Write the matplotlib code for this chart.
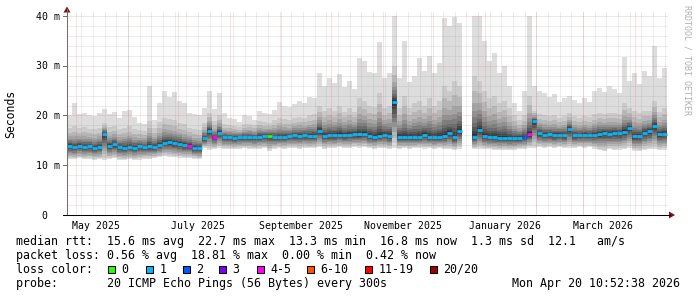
import numpy as np
import matplotlib
matplotlib.use("Agg")
import matplotlib.pyplot as plt
import matplotlib.dates as mdates
from matplotlib.patches import Rectangle, Polygon
from matplotlib.lines import Line2D
from matplotlib.transforms import Affine2D, blended_transform_factory
from datetime import datetime, timedelta

nan = np.nan
W, H = 697, 297
plt.rcParams["lines.scale_dashes"] = False

# time range of the graph (360 days, 3-day bins)
t_start = datetime(2025, 4, 25, 12)
t_end = datetime(2026, 4, 21, 0)
bin_days = 3

# median rtt per bin (ms)
median = [
    13.8, 13.6, 13.9, 13.7, 13.8, 13.5, 13.7, 16.3, 13.9, 14.2,
    13.6, 13.5, 13.7, 13.5, 13.8, 13.6, 13.8, 13.7, 14.0, 14.5,
    14.6, 14.4, 14.3, 14.0, 13.9, 13.5, 13.4, 15.4, 16.9, 15.6,
    16.5, 15.6, 15.6, 15.5, 15.6, 15.6, 15.7, 15.6, 15.7, 15.8,
    15.9, 15.6, 15.7, 15.7, 15.8, 16.0, 15.9, 16.0, 15.9, 15.9,
    16.9, 15.9, 16.0, 16.0, 16.1, 16.0, 16.1, 16.2, 16.2, 16.3,
    15.8, 15.7, 15.9, 16.1, 15.8, 22.7, 15.7, 15.6, 15.7, 15.6,
    15.7, 16.1, 15.7, 15.6, 15.7, 15.8, 16.4, 15.6, 16.9, nan,
    nan, 15.7, 17.0, 15.8, 15.6, 15.6, 15.5, 15.5, 15.4, 15.4,
    15.5, 15.6, 16.2, 18.9, 16.4, 16.1, 16.2, 16.0, 16.1, 16.0,
    17.3, 16.0, 16.0, 16.1, 16.0, 16.1, 16.3, 16.4, 16.3, 16.5,
    16.4, 16.7, 17.5, 15.8, 15.9, 16.5, 16.8, 17.9, 16.2, 16.3,
]

# slowest ping per bin (top of the smoke)
rtt_max = [
    20.0, 22.5, 20.3, 20.6, 20.1, 19.8, 20.4, 21.3, 20.2, 20.8,
    19.5, 20.9, 21.2, 19.6, 18.4, 18.2, 26.0, 19.0, 22.5, 25.0,
    23.7, 24.8, 23.0, 22.6, 20.5, 20.3, 20.0, 21.5, 25.0, 21.3,
    24.5, 20.5, 19.5, 19.2, 18.7, 20.0, 19.8, 19.0, 21.0, 20.6,
    20.2, 21.2, 22.8, 22.0, 21.7, 22.3, 23.0, 22.5, 23.8, 23.6,
    28.5, 26.0, 27.5, 26.5, 28.3, 25.8, 27.0, 25.4, 31.5, 31.0,
    28.8, 28.5, 34.8, 27.5, 28.5, 40.0, 27.5, 35.0, 26.8, 28.0,
    31.5, 29.0, 32.0, 28.5, 30.5, 39.5, 38.0, 39.8, 38.5, nan,
    nan, 40.0, 40.0, 35.0, 31.0, 32.5, 28.5, 30.0, 26.0, 22.5,
    21.0, 25.0, 40.0, 26.0, 25.0, 24.5, 23.8, 24.3, 22.8, 23.5,
    24.0, 23.2, 22.5, 23.6, 22.8, 25.0, 25.5, 24.8, 26.0, 25.3,
    24.6, 31.8, 27.0, 28.5, 26.3, 29.0, 28.0, 34.0, 27.5, 29.5,
]

# upper edge of the medium grey smoke per bin
rtt_upper = [
    17.5, 17.8, 17.4, 17.6, 17.3, 17.2, 17.5, 18.5, 17.6, 17.8,
    17.2, 17.5, 17.8, 17.3, 17.0, 16.9, 18.8, 17.4, 18.6, 19.5,
    19.2, 19.0, 18.4, 18.2, 17.5, 17.2, 17.0, 18.5, 20.5, 18.8,
    20.0, 18.2, 18.0, 17.9, 17.7, 18.2, 18.3, 18.0, 18.8, 18.6,
    18.5, 19.0, 19.5, 19.2, 19.0, 19.4, 19.7, 19.5, 20.0, 20.2,
    22.0, 21.0, 21.5, 21.0, 22.0, 20.8, 21.5, 20.8, 23.5, 23.0,
    22.0, 21.8, 24.5, 21.5, 22.0, 30.0, 21.5, 24.0, 21.5, 22.5,
    23.0, 22.0, 23.5, 22.0, 23.0, 26.0, 25.0, 27.0, 26.0, nan,
    nan, 28.0, 27.0, 25.0, 23.5, 24.0, 22.5, 23.0, 21.5, 20.0,
    19.0, 20.0, 24.0, 21.0, 20.2, 20.0, 19.8, 20.0, 19.5, 19.8,
    20.5, 19.8, 19.5, 19.8, 19.6, 20.2, 20.5, 20.3, 20.6, 20.4,
    20.2, 22.5, 21.5, 21.0, 20.5, 21.0, 21.0, 23.0, 20.8, 21.5,
]

# fastest ping per bin (bottom of the smoke)
rtt_min = [
    11.3, 11.2, 11.4, 11.2, 11.3, 11.1, 11.2, 11.0, 11.2, 11.4,
    11.1, 11.0, 11.2, 11.0, 11.1, 11.3, 11.2, 11.4, 11.6, 11.8,
    11.7, 11.6, 11.5, 11.4, 11.5, 11.3, 11.2, 13.4, 13.0, 13.2,
    13.5, 13.3, 13.3, 13.2, 13.3, 13.4, 13.3, 13.2, 13.3, 13.4,
    12.9, 13.3, 13.4, 13.3, 13.5, 13.4, 13.3, 13.5, 13.4, 13.5,
    13.6, 13.3, 13.5, 13.4, 13.6, 13.5, 13.4, 13.6, 13.5, 13.6,
    13.4, 13.3, 13.5, 13.4, 13.3, 13.5, 13.3, 13.4, 13.3, 13.4,
    13.5, 13.3, 13.4, 13.3, 13.4, 13.3, 13.2, 13.0, 13.2, nan,
    nan, 13.2, 13.3, 13.3, 13.2, 13.1, 13.0, 13.1, 13.0, 13.1,
    13.2, 13.3, 13.5, 13.4, 13.6, 13.5, 13.6, 13.5, 13.6, 13.5,
    13.4, 13.5, 13.6, 13.5, 13.6, 13.3, 13.0, 12.8, 13.2, 13.0,
    13.1, 13.2, 13.5, 12.9, 12.8, 13.0, 13.2, 13.3, 13.0, 13.1,
]

# loss colour class per bin (index into loss_labels)
loss = [
    1, 1, 1, 1, 1, 1, 1, 1, 1, 1, 1, 1, 1, 1, 1, 1, 1, 1, 1, 1,
    1, 1, 1, 1, 4, 1, 1, 1, 1, 4, 1, 1, 1, 1, 1, 1, 1, 1, 1, 1,
    0, 1, 1, 1, 1, 1, 1, 1, 1, 1, 1, 1, 1, 1, 1, 1, 1, 1, 1, 1,
    1, 1, 1, 1, 1, 1, 1, 1, 1, 1, 1, 1, 1, 1, 1, 1, 1, 1, 1, 1,
    1, 1, 1, 1, 1, 1, 1, 1, 1, 1, 1, 2, 4, 1, 1, 1, 1, 1, 1, 1,
    1, 1, 1, 1, 1, 1, 1, 1, 1, 1, 1, 1, 1, 1, 1, 1, 1, 1, 1, 1,
]

loss_labels = ["0", "1", "2", "3", "4-5", "6-10", "11-19", "20/20"]
loss_colors = ["#26ff00", "#00b8ff", "#0059ff", "#7e00ff",
               "#ff00ff", "#ff5500", "#ff0000", "#a10000"]
loss_box_x = [108, 145.7, 182.7, 219, 256.7, 306.7, 365, 430]

y_ticks = [0, 10, 20, 30, 40]
y_tick_labels = ["0", "10 m", "20 m", "30 m", "40 m"]
x_label_months = [datetime(2025, 5, 1), datetime(2025, 7, 1), datetime(2025, 9, 1),
                  datetime(2025, 11, 1), datetime(2026, 1, 1), datetime(2026, 3, 1)]
x_label_texts = ["May 2025", "July 2025", "September 2025",
                 "November 2025", "January 2026", "March 2026"]

stats_rtt = "median rtt:  15.6 ms avg  22.7 ms max  13.3 ms min  16.8 ms now  1.3 ms sd  12.1   am/s"
stats_loss = "packet loss: 0.56 % avg  18.81 % max  0.00 % min  0.42 % now"
probe_text = "probe:       20 ICMP Echo Pings (56 Bytes) every 300s"
stamp_text = "Mon Apr 20 10:52:38 2026"

mono = "DejaVu Sans Mono"

fig = plt.figure(figsize=(W / 100, H / 100), dpi=100)
fig.patch.set_facecolor("white")
# plot area: x 67..668, y 12..215 (pixels from top)
ax = fig.add_axes([67 / W, (H - 215) / H, 601 / W, 203 / H])
ax.set_facecolor("white")
for s in ax.spines.values():
    s.set_visible(False)
ax.set_xticks([])
ax.set_yticks([])
x0, x1 = mdates.date2num(t_start), mdates.date2num(t_end)
ax.set_xlim(x0, x1)
ax.set_ylim(0, 40.8)

# pixel transform (origin top-left)
pix = Affine2D().scale(1 / W, -1 / H).translate(0, 1) + fig.transFigure

# --- smoke ---
x_left = mdates.date2num([t_start + timedelta(days=bin_days * i) for i in range(len(median))])
med = np.array(median, float)
top = np.array(rtt_max, float)
upp = np.array(rtt_upper, float)
low = np.array(rtt_min, float)

greys = [221, 202, 183, 164, 145, 126, 107, 88, 69, 50]
up_frac = [None, None, 0.75, 0.55, 0.42, 0.32, 0.23, 0.16, 0.10, 0.05]
lo_frac = [1.0, 0.9, 0.78, 0.66, 0.55, 0.44, 0.34, 0.25, 0.16, 0.08]
for k, g in enumerate(greys):
    if k == 0:
        hi = top
    elif k == 1:
        hi = upp
    else:
        hi = med + (upp - med) * up_frac[k]
    lo = med - (med - low) * lo_frac[k]
    ax.bar(x_left, hi - lo, bottom=lo, width=bin_days, align="edge",
           color=(g / 255, g / 255, g / 255), linewidth=0, antialiased=False, zorder=1)

# --- median line coloured by loss ---
ok = ~np.isnan(med)
ax.hlines(med[ok], x_left[ok], x_left[ok] + bin_days,
          colors=[loss_colors[c] for c in np.array(loss)[ok]], linewidth=2.0, zorder=3)

# --- grid (dotted, drawn over the smoke) ---
minor_c = (0.56, 0.56, 0.56, 0.32)
major_c = (0.87, 0.31, 0.31, 0.32)
dots = (0, (0.72, 0.72))
for v in np.arange(2, 41, 2):
    c = major_c if v % 10 == 0 else minor_c
    ax.axhline(v, color=c, lw=0.72, ls=dots, zorder=4)
d = datetime(2025, 5, 4)
while d < t_end:
    ax.axvline(mdates.date2num(d), color=minor_c, lw=0.72, ls=dots, zorder=4)
    d += timedelta(days=7)
m = datetime(2025, 5, 1)
while m < t_end:
    ax.axvline(mdates.date2num(m), color=major_c, lw=0.72, ls=dots, zorder=4)
    m = datetime(m.year + (m.month // 12), m.month % 12 + 1, 1)

# --- axes lines and arrows ---
fig.add_artist(Line2D([67, 67], [215, 9], transform=pix, color="#707070", lw=0.75))
fig.add_artist(Line2D([63, 670], [215, 215], transform=pix, color="black", lw=0.75))
for v in y_ticks[1:]:
    yp = 215 - v * 203 / 40.8
    fig.add_artist(Line2D([63, 67], [yp, yp], transform=pix, color="#707070", lw=0.75))
fig.add_artist(Polygon([[63.5, 12.5], [70.5, 12.5], [67, 6.5]], closed=True,
                       transform=pix, color="#7f1010", lw=0))
fig.add_artist(Polygon([[669, 211.5], [669, 218.5], [675, 215]], closed=True,
                       transform=pix, color="#7f1010", lw=0))

# --- axis labels ---
for v, lab in zip(y_ticks, y_tick_labels):
    yp = 215 - v * 203 / 40.8
    xr = 59.5 if lab != "0" else 47.8
    fig.text(xr, yp + 3.6, lab, transform=pix, ha="right", va="baseline",
             family=mono, fontsize=7.1, color="black")
fig.text(10.5, 114, "Seconds", transform=pix, rotation=90, ha="center", va="center",
         family=mono, fontsize=8.3, color="black")
xt = blended_transform_factory(ax.transData, pix)
for mth, lab in zip(x_label_months, x_label_texts):
    xc = mdates.date2num(mth + timedelta(days=12))
    fig.text(xc, 229, lab, transform=xt, ha="center", va="baseline",
             family=mono, fontsize=7.1, color="black")

fig.text(686.5, 5, "RRDTOOL / TOBI OETIKER", transform=pix, rotation=270,
         ha="center", va="top", family=mono, fontsize=6.0, color="#b0b0b0")

# --- legend / stats ---
fig.text(16, 245, stats_rtt, transform=pix, ha="left", va="baseline", family=mono, fontsize=8.4)
fig.text(16, 259, stats_loss, transform=pix, ha="left", va="baseline", family=mono, fontsize=8.4)
fig.text(16, 273, "loss color:", transform=pix, ha="left", va="baseline", family=mono, fontsize=8.4)
for bx, lab, col in zip(loss_box_x, loss_labels, loss_colors):
    fig.add_artist(Rectangle((bx, 265.5), 7, 7, transform=pix, facecolor=col,
                             edgecolor="black", lw=0.75))
    fig.text(bx + 13.5, 273, lab, transform=pix, ha="left", va="baseline", family=mono, fontsize=8.4)
fig.text(16, 287, probe_text, transform=pix, ha="left", va="baseline", family=mono, fontsize=8.4)
fig.text(680, 287, stamp_text, transform=pix, ha="right", va="baseline", family=mono, fontsize=8.4)

fig.savefig("out.png", dpi=100)
